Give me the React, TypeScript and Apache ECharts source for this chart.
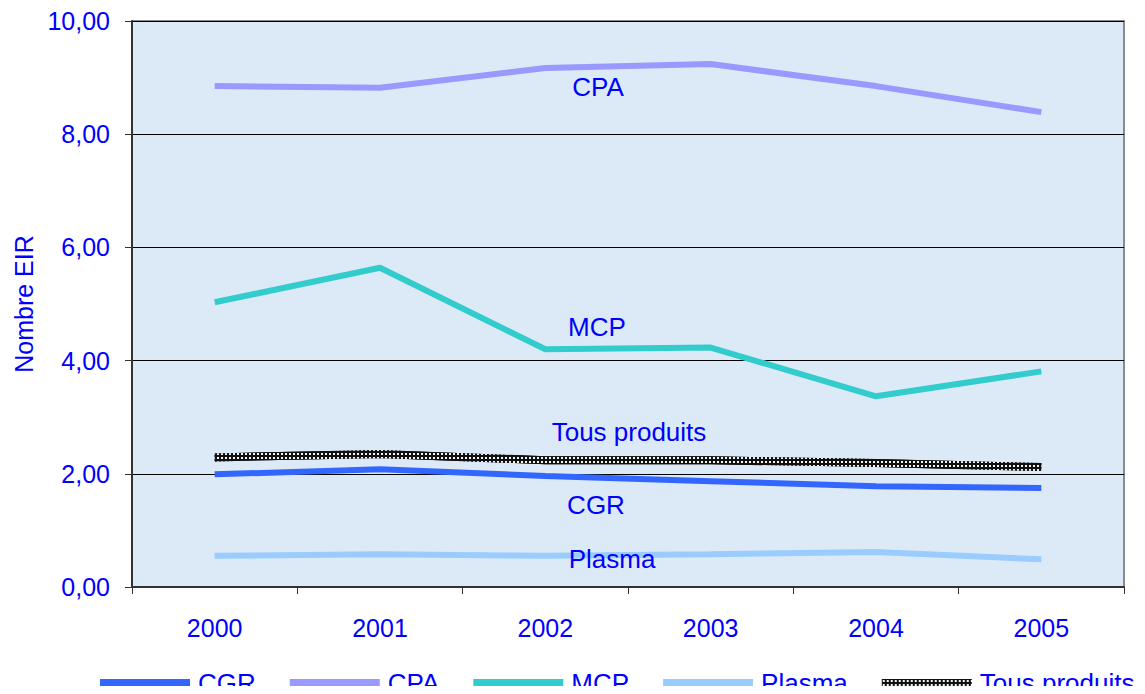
import React, { useEffect, useRef } from "react";
import * as echarts from "echarts";

const years = ["2000", "2001", "2002", "2003", "2004", "2005"];
const cgr = [1.99, 2.08, 1.96, 1.87, 1.78, 1.75];
const cpa = [8.85, 8.82, 9.17, 9.24, 8.85, 8.39];
const mcp = [5.03, 5.64, 4.2, 4.23, 3.37, 3.81];
const plasma = [0.55, 0.58, 0.55, 0.58, 0.62, 0.49];
const tous = [2.29, 2.35, 2.24, 2.24, 2.19, 2.12];
const yTicks = [0, 2, 4, 6, 8, 10];

const FONT = "Liberation Sans, Arial, sans-serif";
const BLUE = "#0000ff";

function makeChecker(): string {
  const c = document.createElement("canvas");
  c.width = 4;
  c.height = 4;
  const ctx = c.getContext("2d");
  if (ctx) {
    ctx.fillStyle = "#111111";
    ctx.fillRect(0, 0, 4, 4);
    ctx.fillStyle = "#f4f4f4";
    ctx.fillRect(1, 1, 2, 2);
  }
  return c.toDataURL();
}

export default function App() {
  const ref = useRef<HTMLDivElement>(null);
  useEffect(() => {
    if (!ref.current) return;
    const chart = echarts.init(ref.current, undefined, { renderer: "svg" });
    const checker = { image: makeChecker(), repeat: "repeat" };
    const lineSeries = (name: string, data: number[], color: any, width = 6) => ({
      name,
      type: "line",
      data,
      symbol: "none",
      lineStyle: { color, width, cap: "butt" },
      itemStyle: { color },
      z: 3,
    });
    const labelText = (text: string, x: number, y: number) => ({
      type: "text",
      x,
      y,
      z: 10,
      style: {
        text,
        fill: BLUE,
        font: `26px ${FONT}`,
        textAlign: "center",
        textVerticalAlign: "middle",
      },
    });
    chart.setOption({
      animation: false,
      backgroundColor: "#ffffff",
      textStyle: { fontFamily: FONT },
      grid: {
        left: 132,
        right: 21,
        top: 21,
        bottom: 107,
        show: true,
        backgroundColor: "#dceaf7",
        borderColor: "#8a8a8a",
        borderWidth: 2,
        containLabel: false,
      },
      xAxis: {
        type: "category",
        data: years,
        boundaryGap: true,
        axisLine: { show: true, lineStyle: { color: "#333", width: 2 } },
        axisTick: { show: true, length: 7, lineStyle: { color: "#333", width: 1 } },
        axisLabel: { color: BLUE, fontSize: 25, margin: 28, fontFamily: FONT },
        splitLine: { show: false },
      },
      yAxis: {
        type: "value",
        min: yTicks[0],
        max: yTicks[yTicks.length - 1],
        interval: 2,
        name: "Nombre EIR",
        nameLocation: "middle",
        nameGap: 95,
        nameRotate: 90,
        nameTextStyle: { color: BLUE, fontSize: 25, fontFamily: FONT },
        axisLine: { show: true, lineStyle: { color: "#333", width: 2 } },
        axisTick: { show: true, length: 7, lineStyle: { color: "#333", width: 1 } },
        axisLabel: {
          color: BLUE,
          fontSize: 25,
          margin: 22,
          fontFamily: FONT,
          formatter: (v: number) => v.toFixed(2).replace(".", ","),
        },
        splitLine: { show: true, lineStyle: { color: "#000", width: 1 } },
      },
      legend: {
        data: ["CGR", "CPA", "MCP", "Plasma", "Tous produits"],
        left: 95,
        top: 665,
        itemWidth: 90,
        itemHeight: 8,
        itemGap: 34,
        icon: "rect",
        textStyle: { color: BLUE, fontSize: 26, fontFamily: FONT, padding: [0, 0, 0, 3] },
      },
      series: [
        lineSeries("CGR", cgr, "#3366ff"),
        lineSeries("CPA", cpa, "#9999ff"),
        lineSeries("MCP", mcp, "#33cccc"),
        lineSeries("Plasma", plasma, "#99ccff"),
        {
          name: "tous-base",
          type: "line",
          data: tous,
          symbol: "none",
          silent: true,
          lineStyle: { color: "#111111", width: 8, cap: "butt" },
          z: 3,
        },
        { ...lineSeries("Tous produits", tous, checker, 8), z: 4 },
      ],
      graphic: [
        labelText("CPA", 598, 87),
        labelText("MCP", 597, 327),
        labelText("Tous produits", 629, 432),
        labelText("CGR", 596, 505),
        labelText("Plasma", 612, 559),
      ],
    });
    return () => chart.dispose();
  }, []);
  return <div ref={ref} style={{ width: 1145, height: 694, margin: -8 }} />;
}
